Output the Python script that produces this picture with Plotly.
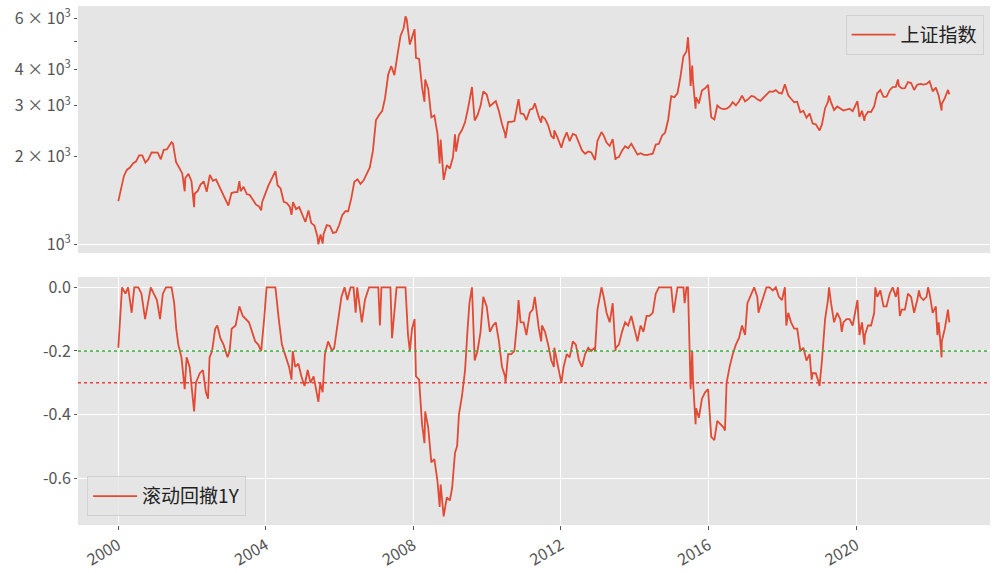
import plotly.graph_objects as go

# ---------------- data ----------------
price_dates = [
"2000-01-04","2000-01-28","2000-02-28","2000-03-28","2000-04-28","2000-05-28","2000-06-28","2000-07-28","2000-08-28","2000-09-28","2000-10-28","2000-11-28","2000-12-28",
"2001-01-28","2001-02-28","2001-03-28","2001-04-28","2001-05-28","2001-06-14","2001-06-28","2001-07-28","2001-08-28","2001-09-28","2001-10-22","2001-10-28","2001-11-28","2001-12-28",
"2002-01-23","2002-01-28","2002-02-28","2002-03-28","2002-04-28","2002-05-28","2002-06-28","2002-07-28","2002-08-28","2002-09-28","2002-10-28","2002-11-28","2002-12-28",
"2003-01-28","2003-02-28","2003-03-28","2003-04-16","2003-04-28","2003-05-28","2003-06-28","2003-07-28","2003-08-28","2003-09-28","2003-10-28","2003-11-18","2003-11-28","2003-12-28",
"2004-01-28","2004-02-28","2004-03-28","2004-04-07","2004-04-28","2004-05-28","2004-06-28","2004-07-28","2004-08-28","2004-09-13","2004-09-28","2004-10-28","2004-11-28","2004-12-28",
"2005-01-28","2005-02-28","2005-03-28","2005-04-28","2005-05-28","2005-06-06","2005-06-28","2005-07-18","2005-07-28","2005-08-28","2005-09-28","2005-10-28","2005-11-28","2005-12-28",
"2006-01-28","2006-02-28","2006-03-28","2006-04-28","2006-05-28","2006-06-28","2006-07-28","2006-08-28","2006-09-28","2006-10-28","2006-11-28","2006-12-28",
"2007-01-28","2007-02-28","2007-03-28","2007-04-28","2007-05-28","2007-06-28","2007-07-28","2007-08-28","2007-09-28","2007-10-16","2007-10-28","2007-11-28","2007-12-28",
"2008-01-14","2008-01-28","2008-02-28","2008-03-28","2008-04-21","2008-04-28","2008-05-28","2008-06-28","2008-07-28","2008-08-28","2008-09-18","2008-09-28","2008-10-28","2008-11-28","2008-12-28",
"2009-01-28","2009-02-17","2009-02-28","2009-03-28","2009-04-28","2009-05-28","2009-06-28","2009-08-04","2009-08-31","2009-09-28","2009-10-28","2009-11-24","2009-12-28",
"2010-01-28","2010-02-28","2010-03-28","2010-04-28","2010-05-28","2010-06-28","2010-07-02","2010-07-28","2010-08-28","2010-09-28","2010-10-28","2010-11-08","2010-11-28","2010-12-28",
"2011-01-25","2011-02-28","2011-03-28","2011-04-18","2011-05-28","2011-06-20","2011-06-28","2011-07-28","2011-08-28","2011-09-28","2011-10-24","2011-10-28","2011-11-28","2011-12-28",
"2012-01-06","2012-01-28","2012-02-28","2012-03-28","2012-04-28","2012-05-28","2012-06-28","2012-07-28","2012-08-28","2012-09-28","2012-10-28","2012-11-28","2012-12-04","2012-12-28",
"2013-01-28","2013-02-06","2013-02-28","2013-03-28","2013-04-28","2013-05-28","2013-06-25","2013-06-28","2013-07-28","2013-08-28","2013-09-28","2013-10-28","2013-11-28","2013-12-28",
"2014-01-28","2014-02-28","2014-03-28","2014-04-28","2014-05-28","2014-06-28","2014-07-28","2014-08-28","2014-09-28","2014-10-28","2014-11-28","2014-12-28",
"2015-01-28","2015-02-28","2015-03-28","2015-04-28","2015-05-28","2015-06-12","2015-06-28","2015-07-08","2015-07-24","2015-07-31","2015-08-26","2015-08-31","2015-09-28","2015-10-28","2015-11-28","2015-12-28",
"2016-01-28","2016-02-28","2016-03-28","2016-04-28","2016-05-28","2016-06-28","2016-07-28","2016-08-28","2016-09-28","2016-10-28","2016-11-28","2016-12-28",
"2017-01-28","2017-02-28","2017-03-28","2017-04-28","2017-05-28","2017-06-28","2017-07-28","2017-08-28","2017-09-28","2017-10-28","2017-11-28","2017-12-28",
"2018-01-26","2018-02-28","2018-03-28","2018-04-28","2018-05-28","2018-06-28","2018-07-28","2018-08-28","2018-09-28","2018-10-28","2018-11-28","2018-12-28",
"2019-01-04","2019-01-28","2019-02-28","2019-03-28","2019-04-08","2019-04-28","2019-05-28","2019-06-28","2019-07-28","2019-08-28","2019-09-28","2019-10-28","2019-11-28","2019-12-28",
"2020-01-14","2020-02-03","2020-02-28","2020-03-23","2020-03-28","2020-04-28","2020-05-28","2020-06-28","2020-07-28","2020-08-28","2020-09-28","2020-10-28","2020-11-28","2020-12-28",
"2021-01-28","2021-02-18","2021-02-28","2021-03-28","2021-04-28","2021-05-28","2021-06-28","2021-07-28","2021-08-28","2021-09-28","2021-10-28","2021-11-28","2021-12-28",
"2022-01-28","2022-02-28","2022-03-28","2022-04-26","2022-04-28","2022-05-28","2022-06-28","2022-07-12",
]
price_values = [
1406,1540,1714,1801,1836,1895,1928,2023,2022,1910,1961,2070,2073,
2065,1959,2112,2119,2214,2245,2218,1920,1834,1752,1520,1690,1747,1646,
1339,1491,1524,1603,1646,1515,1732,1652,1669,1581,1507,1434,1357,
1499,1511,1511,1649,1521,1576,1487,1476,1421,1367,1348,1307,1397,1497,
1590,1675,1742,1783,1595,1555,1399,1386,1342,1260,1396,1320,1340,1266,
1191,1306,1181,1159,1060,998,1080,1004,1083,1162,1155,1092,1099,1161,
1258,1299,1298,1440,1641,1672,1612,1658,1752,1837,2099,2675,
2786,2881,3183,3841,4109,3820,4471,5218,5552,6092,5954,4871,5262,
5497,4383,4348,3473,3094,3693,3433,2736,2776,2397,1895,2293,1664,1871,1821,
1991,2390,2082,2374,2477,2633,2959,3478,2667,2779,2996,3361,3277,
2989,3051,3110,2871,2593,2398,2320,2638,2639,2656,2979,3159,2820,2808,
2677,2905,2928,3057,2743,2622,2762,2701,2568,2359,2307,2468,2333,2199,
2148,2292,2428,2263,2397,2373,2225,2103,2047,2086,2069,1980,1949,2269,
2385,2434,2366,2237,2178,2301,1950,1979,1994,2098,2175,2141,2220,2116,
2033,2056,2033,2026,2039,2048,2202,2217,2364,2420,2683,3235,
3210,3310,3748,4441,4612,5166,4277,3507,4124,3664,2927,3206,3053,3383,3445,3539,
2738,2688,3004,2938,2917,2930,2979,3085,3005,3100,3250,3104,
3159,3242,3223,3155,3117,3192,3273,3361,3349,3393,3317,3307,
3558,3259,3169,3082,3095,2847,2876,2725,2821,2603,2588,2494,
2464,2585,2941,3091,3247,3078,2899,2979,2933,2886,2905,2929,2872,3050,
3107,2746,2880,2660,2750,2860,2852,2985,3310,3396,3218,3225,3392,3473,
3483,3696,3509,3442,3447,3615,3591,3397,3544,3568,3547,3564,3640,
3361,3463,3252,2886,3047,3186,3399,3281,
]

dd_dates = [
"2000-01-04","2000-01-20","2000-02-10","2000-03-15","2000-04-10","2000-05-15","2000-06-10","2000-07-20","2000-08-20","2000-09-25","2000-10-20","2000-11-20","2000-12-20",
"2001-01-20","2001-02-20","2001-03-20","2001-04-20","2001-05-20","2001-06-14","2001-07-10","2001-07-30","2001-08-20","2001-09-20","2001-10-22","2001-11-10","2001-12-10",
"2002-01-23","2002-02-10","2002-03-20","2002-04-20","2002-05-20","2002-06-10","2002-06-25","2002-07-20","2002-08-20","2002-09-10","2002-10-10","2002-11-10","2002-12-20",
"2003-01-10","2003-01-30","2003-03-10","2003-04-16","2003-05-20","2003-06-20","2003-07-20","2003-08-20","2003-09-20","2003-10-20","2003-11-18","2003-12-20",
"2004-01-10","2004-02-20","2004-04-07","2004-05-10","2004-06-10","2004-07-10","2004-08-20","2004-09-13","2004-09-25","2004-10-20","2004-11-20","2004-12-20",
"2005-01-20","2005-02-20","2005-03-20","2005-04-20","2005-05-20","2005-06-06","2005-06-25","2005-07-18","2005-08-10","2005-09-10","2005-10-20","2005-11-10","2005-12-20",
"2006-01-20","2006-02-20","2006-03-20","2006-04-20","2006-05-20","2006-06-10","2006-06-25","2006-07-20","2006-08-10","2006-09-10","2006-10-20","2006-11-20","2006-12-20",
"2007-01-20","2007-02-05","2007-02-20","2007-03-20","2007-04-20","2007-05-20","2007-06-05","2007-06-25","2007-07-20","2007-08-20","2007-09-20","2007-10-16","2007-11-10","2007-11-28","2007-12-20",
"2008-01-14","2008-01-28","2008-02-28","2008-03-28","2008-04-21","2008-04-28","2008-05-28","2008-06-28","2008-07-28","2008-08-28","2008-09-18","2008-09-28","2008-10-28","2008-11-28","2008-12-28",
"2009-01-20","2009-02-17","2009-03-10","2009-03-28","2009-04-28","2009-05-28","2009-06-20","2009-07-10","2009-08-04","2009-08-31","2009-09-28","2009-10-28","2009-11-24","2009-12-28",
"2010-01-28","2010-02-28","2010-03-28","2010-04-28","2010-05-28","2010-06-28","2010-07-02","2010-07-28","2010-08-28","2010-09-28","2010-10-28","2010-11-08","2010-11-28","2010-12-28",
"2011-01-25","2011-02-28","2011-03-28","2011-04-18","2011-05-28","2011-06-20","2011-06-28","2011-07-28","2011-08-28","2011-09-28","2011-10-24","2011-10-28","2011-11-28","2011-12-28",
"2012-01-06","2012-01-28","2012-02-28","2012-03-28","2012-04-28","2012-05-28","2012-06-28","2012-07-28","2012-08-28","2012-09-28","2012-10-28","2012-11-28","2012-12-04","2012-12-28",
"2013-01-28","2013-02-06","2013-02-28","2013-03-28","2013-04-28","2013-05-28","2013-06-25","2013-06-28","2013-07-28","2013-08-28","2013-09-28","2013-10-28","2013-11-28","2013-12-28",
"2014-01-28","2014-02-28","2014-03-28","2014-04-28","2014-05-28","2014-06-28","2014-07-28","2014-08-28","2014-09-28","2014-10-28","2014-11-28","2014-12-28",
"2015-01-20","2015-02-28","2015-03-28","2015-04-28","2015-05-10","2015-05-28","2015-06-12","2015-06-28","2015-07-08","2015-07-24","2015-07-31","2015-08-26","2015-08-31","2015-09-28","2015-10-28","2015-11-28","2015-12-28",
"2016-01-28","2016-02-28","2016-03-28","2016-04-28","2016-05-28","2016-06-12","2016-06-28","2016-07-28","2016-08-28","2016-09-28","2016-10-28","2016-11-28","2016-12-28",
"2017-01-20","2017-02-28","2017-03-28","2017-04-28","2017-05-10","2017-05-28","2017-06-28","2017-07-28","2017-08-28","2017-09-28","2017-10-28","2017-11-28","2017-12-28",
"2018-01-26","2018-02-09","2018-02-28","2018-03-28","2018-04-28","2018-05-28","2018-06-28","2018-07-28","2018-08-28","2018-09-28","2018-10-18","2018-10-28","2018-11-28","2018-12-28",
"2019-01-04","2019-01-28","2019-02-28","2019-03-28","2019-04-08","2019-04-28","2019-05-28","2019-06-28","2019-07-28","2019-08-12","2019-08-28","2019-09-28","2019-10-28","2019-11-28","2019-12-28",
"2020-01-14","2020-02-03","2020-02-28","2020-03-23","2020-03-28","2020-04-28","2020-05-28","2020-06-28","2020-07-09","2020-07-28","2020-08-28","2020-09-28","2020-10-28","2020-11-28","2020-12-28",
"2021-01-28","2021-02-18","2021-03-09","2021-03-28","2021-04-28","2021-05-28","2021-06-28","2021-07-28","2021-08-28","2021-09-14","2021-09-28","2021-10-28","2021-11-28","2021-12-13","2021-12-28",
"2022-01-28","2022-02-28","2022-03-15","2022-03-28","2022-04-26","2022-04-28","2022-05-28","2022-06-28","2022-07-12",
]
dd_values = [
-0.19,-0.10,0.0,-0.02,0.0,-0.08,0.0,0.0,-0.02,-0.10,-0.05,0.0,-0.02,
-0.04,-0.10,-0.02,0.0,0.0,0.0,-0.05,-0.13,-0.18,-0.22,-0.32,-0.22,-0.25,
-0.39,-0.30,-0.27,-0.26,-0.33,-0.35,-0.22,-0.20,-0.13,-0.12,-0.16,-0.18,-0.22,
-0.20,-0.13,-0.12,-0.06,-0.09,-0.10,-0.11,-0.14,-0.17,-0.18,-0.20,-0.09,
0.0,0.0,0.0,-0.10,-0.18,-0.21,-0.25,-0.29,-0.20,-0.25,-0.24,-0.28,
-0.31,-0.26,-0.30,-0.28,-0.33,-0.36,-0.30,-0.33,-0.21,-0.17,-0.20,-0.19,-0.10,
-0.03,0.0,-0.04,0.0,0.0,-0.08,0.0,-0.06,-0.11,-0.04,0.0,0.0,0.0,
0.0,-0.12,0.0,0.0,0.0,0.0,-0.16,-0.09,0.0,0.0,0.0,0.0,-0.15,-0.20,-0.13,
-0.10,-0.28,-0.29,-0.43,-0.49,-0.39,-0.44,-0.55,-0.54,-0.61,-0.69,-0.62,-0.72,-0.66,-0.67,
-0.63,-0.52,-0.50,-0.40,-0.34,-0.26,-0.14,-0.05,0.0,-0.23,-0.20,-0.14,-0.03,-0.06,
-0.14,-0.12,-0.11,-0.17,-0.25,-0.28,-0.30,-0.21,-0.21,-0.20,-0.10,-0.04,-0.11,-0.11,
-0.15,-0.08,-0.07,-0.03,-0.13,-0.17,-0.12,-0.14,-0.18,-0.23,-0.25,-0.19,-0.24,-0.28,
-0.30,-0.25,-0.21,-0.22,-0.17,-0.18,-0.23,-0.25,-0.21,-0.19,-0.20,-0.19,-0.20,-0.07,
-0.02,0.0,-0.03,-0.08,-0.11,-0.05,-0.20,-0.19,-0.18,-0.14,-0.11,-0.12,-0.09,-0.13,
-0.17,-0.12,-0.14,-0.09,-0.09,-0.08,-0.02,0.0,0.0,0.0,0.0,0.0,
-0.08,0.0,0.0,0.0,-0.05,0.0,0.0,-0.17,-0.32,-0.20,-0.29,-0.43,-0.38,-0.41,-0.35,-0.33,-0.32,
-0.47,-0.48,-0.42,-0.43,-0.44,-0.45,-0.30,-0.25,-0.21,-0.18,-0.16,-0.12,-0.15,
-0.05,-0.02,0.0,-0.03,-0.08,-0.06,-0.03,0.0,0.0,-0.01,0.0,-0.03,-0.04,
0.0,-0.12,-0.08,-0.11,-0.13,-0.13,-0.20,-0.19,-0.23,-0.21,-0.29,-0.27,-0.27,-0.30,
-0.31,-0.23,-0.10,-0.04,0.0,-0.05,-0.11,-0.08,-0.10,-0.14,-0.11,-0.10,-0.10,-0.12,-0.06,
-0.04,-0.15,-0.11,-0.18,-0.15,-0.12,-0.12,-0.08,0.0,-0.03,-0.01,-0.06,-0.06,-0.02,0.0,
-0.03,0.0,-0.09,-0.07,-0.07,-0.02,-0.03,-0.08,-0.04,-0.01,-0.03,-0.04,-0.03,0.0,-0.02,
-0.08,-0.06,-0.15,-0.11,-0.22,-0.17,-0.13,-0.07,-0.11,
]

price_name = "上证指数"
dd_name = "滚动回撤1Y"
thresholds = [-0.2, -0.3]
threshold_colors = ["#33b033", "#e8403a"]

price_tickvals = [1000, 2000, 3000, 4000, 5000, 6000]
price_ticktext = ["10<sup>3</sup>", "2 × 10<sup>3</sup>", "3 × 10<sup>3</sup>",
                  "4 × 10<sup>3</sup>", "", "6 × 10<sup>3</sup>"]
dd_tickvals = [0.0, -0.2, -0.4, -0.6]
dd_ticktext = ["0.0", "-0.2", "-0.4", "-0.6"]
year_ticks = ["2000-01-01", "2004-01-01", "2008-01-01", "2012-01-01", "2016-01-01", "2020-01-01"]
year_labels = ["2000", "2004", "2008", "2012", "2016", "2020"]

# ---------------- figure ----------------
LINE = "#E24A33"
BG = "#E5E5E5"
TICK = "#555555"
FONT = "Noto Sans CJK SC"

fig = go.Figure()
fig.add_trace(go.Scatter(x=price_dates, y=price_values, mode="lines", name=price_name,
                         line=dict(color=LINE, width=1.8), xaxis="x", yaxis="y",
                         legend="legend"))
fig.add_trace(go.Scatter(x=dd_dates, y=dd_values, mode="lines", name=dd_name,
                         line=dict(color=LINE, width=1.8), xaxis="x2", yaxis="y2",
                         legend="legend2"))

for val, col in zip(thresholds, threshold_colors):
    fig.add_shape(type="line", xref="x2 domain", yref="y2", x0=0, x1=1, y0=val, y1=val,
                  line=dict(color=col, width=1.6, dash="dot"), layer="above")

xrange = ["1998-12-01", "2023-08-18"]

fig.update_layout(
    width=1000, height=573,
    margin=dict(l=78, r=10, t=6, b=48, autoexpand=False),
    paper_bgcolor="white", plot_bgcolor=BG,
    font=dict(family=FONT, size=16, color=TICK),
    xaxis=dict(domain=[0, 1], anchor="y", range=xrange, type="date",
               showgrid=False, showticklabels=False, ticks="", zeroline=False,
               showline=False, matches="x2", automargin=False),
    yaxis=dict(domain=[0.524, 1], anchor="x", type="log", range=[2.969, 3.8207],
               tickvals=price_tickvals, ticktext=price_ticktext, showgrid=False,
               ticks="outside", ticklen=3, tickcolor=TICK, zeroline=False,
               automargin=False,
               minor=dict(tickvals=[1000], showgrid=True, gridcolor="white",
                          gridwidth=1.2, ticklen=0),
               tickfont=dict(size=16, color=TICK)),
    xaxis2=dict(domain=[0, 1], anchor="y2", range=xrange, type="date",
                tickvals=year_ticks, ticktext=year_labels, tickangle=-30,
                showgrid=True, gridcolor="white", gridwidth=1.2,
                ticks="outside", ticklen=4, tickcolor=TICK, zeroline=False,
                automargin=False, tickfont=dict(size=16, color=TICK)),
    yaxis2=dict(domain=[0, 0.478], anchor="x2", range=[-0.747, 0.0327],
                tickvals=dd_tickvals, ticktext=dd_ticktext,
                showgrid=True, gridcolor="white", gridwidth=1.2,
                ticks="outside", ticklen=3, tickcolor=TICK, zeroline=False,
                automargin=False, tickfont=dict(size=16, color=TICK)),
    legend=dict(x=0.993, y=0.983, xanchor="right", yanchor="top",
                bgcolor="rgba(229,229,229,0.85)", bordercolor="#d0d0d0", borderwidth=1,
                font=dict(family=FONT, size=19, color="#222222"), itemwidth=44),
    legend2=dict(x=0.01, y=0.017, xanchor="left", yanchor="bottom",
                 bgcolor="rgba(229,229,229,0.85)", bordercolor="#d0d0d0", borderwidth=1,
                 font=dict(family=FONT, size=19, color="#222222"), itemwidth=44),
    showlegend=True,
)

fig.write_html("out.html", config={"displayModeBar": False},
               post_script="document.body.style.margin='0';document.body.style.overflow='hidden';")
